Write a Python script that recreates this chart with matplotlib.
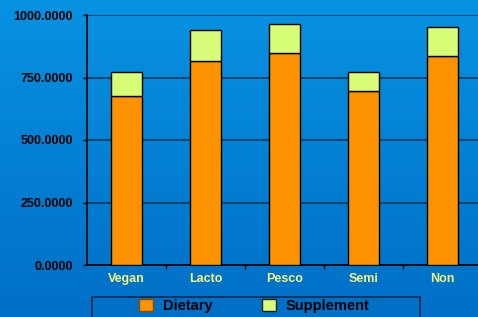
import matplotlib
matplotlib.use("Agg")
import matplotlib.pyplot as plt
import numpy as np
from matplotlib.patches import Patch, Rectangle
from matplotlib.colors import LinearSegmentedColormap

categories = ["Vegan", "Lacto", "Pesco", "Semi", "Non"]
dietary = [675, 815, 847, 697, 836]
supplement = [97, 126, 116, 75, 115]
yticks = [0, 250, 500, 750, 1000]

plt.rcParams['font.family'] = ['Liberation Sans', 'DejaVu Sans']

fig = plt.figure(figsize=(4.78, 3.17), dpi=100)
# background gradient
bg = fig.add_axes([0, 0, 1, 1], zorder=-10)
grad = np.linspace(0, 1, 256).reshape(-1, 1)
cmap = LinearSegmentedColormap.from_list("bg", ["#0892e2", "#006fc6"])
bg.imshow(grad, aspect='auto', cmap=cmap, extent=[0, 1, 0, 1], origin='upper')
bg.axis('off')

W, H = 478, 317
left, right, top, bottom = 87, 482, 15, 265
ax = fig.add_axes([left / W, 1 - bottom / H, (right - left) / W, (bottom - top) / H])
ax.patch.set_alpha(0)

x = np.arange(len(categories))
ax.bar(x, dietary, width=0.4, color="#ff9200", edgecolor="black", linewidth=1, zorder=3)
ax.bar(x, supplement, bottom=dietary, width=0.4, color="#d6fc78", edgecolor="black", linewidth=1, zorder=3)

ax.set_xlim(-0.5, len(categories) - 0.5)
ax.set_ylim(0, 1000)
ax.set_yticks(yticks)
ax.set_yticklabels([f"{v:.4f}" for v in yticks], fontsize=9, fontweight='bold', color='black')
ax.yaxis.grid(True, color="#07466e", linewidth=1.5, zorder=0)
ax.set_axisbelow(True)
ax.tick_params(axis='y', length=3, width=1, color='black', pad=7)

ax.set_xticks(x)
ax.set_xticklabels(categories, fontsize=9, fontweight='bold', color="#f4f47c")
ax.set_xticks(np.arange(0.5, len(categories) - 0.5, 1), minor=True)
ax.tick_params(axis='x', which='major', length=0, pad=6)
ax.tick_params(axis='x', which='minor', length=3, width=1, color='black')

for s in ['top', 'right']:
    ax.spines[s].set_visible(False)
ax.spines['left'].set_color('black')
ax.spines['bottom'].set_color('black')
ax.spines['left'].set_linewidth(1.2)
ax.spines['bottom'].set_linewidth(1.2)

# legend frame
fig.patches.append(Rectangle((92 / W, -10 / H), (420 - 92) / W, (297 + 10 - H + H) / H - (0) if False else (317 - 297 + 10) / H,
                             transform=fig.transFigure, facecolor='none',
                             edgecolor='#0a2a50', linewidth=1.2, zorder=5))

handles = [Patch(facecolor="#ff9200", edgecolor="#8a4a00", label="Dietary"),
           Patch(facecolor="#d6fc78", edgecolor="#222222", label="Supplement")]
leg = fig.legend(handles=handles, loc='center left', ncol=2,
                 bbox_to_anchor=(139 / W, 1 - 306 / H),
                 frameon=False, prop={'size': 10.5, 'weight': 'bold'},
                 handlelength=0.95, handleheight=0.95, handletextpad=0.68, columnspacing=3.4,
                 borderaxespad=0, borderpad=0)

fig.savefig("out.png", dpi=100)
